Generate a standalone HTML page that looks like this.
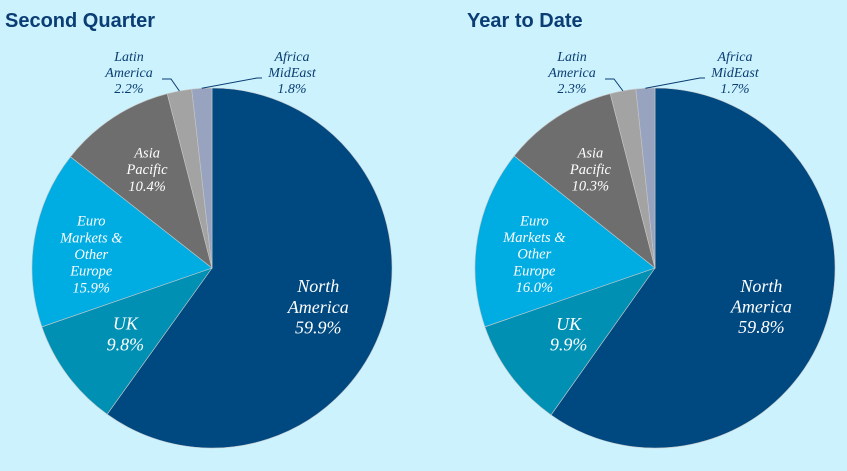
<!DOCTYPE html>
<html><head><meta charset="utf-8"><style>
body{margin:0;background:#ccf2fd;}
svg{display:block}
.t{font-family:"Liberation Sans",sans-serif;font-weight:bold;font-size:20px;fill:#0a3d73}
.l{font-family:"Liberation Serif",serif;font-style:italic;text-anchor:middle}
</style></head><body>
<svg id="c" width="847" height="471">
<rect width="847" height="471" fill="#ccf2fd"/>
<text class="t" x="5" y="27">Second Quarter</text>
<text class="t" x="467" y="27">Year to Date</text>
</svg>
<script>
const categories=["North America","UK","Euro Markets & Other Europe","Asia Pacific","Latin America","Africa MidEast"];
const q2Values=[59.9,9.8,15.9,10.4,2.2,1.8];
const ytdValues=[59.8,9.9,16.0,10.3,2.3,1.7];
const colors=["#004880","#0090b4","#00ade3","#6e6e6e","#a3a3a3","#98a3bf"];
const svg=document.getElementById('c');
const NS="http://www.w3.org/2000/svg";
function el(t,a){const e=document.createElementNS(NS,t);for(const k in a)e.setAttribute(k,a[k]);svg.appendChild(e);return e;}
function pt(cx,cy,r,f){const a=f*2*Math.PI;return [cx+r*Math.sin(a),cy-r*Math.cos(a)];}
function label(x,y,lines,fill,size,name){
  const t=el('text',{class:'l',x:x,y:y,fill:fill,'font-size':size});
  
  
  lines.forEach((s,i)=>{const sp=document.createElementNS(NS,'tspan');sp.setAttribute('x',x);sp.setAttribute('dy',i?size*1.15:0);sp.textContent=s;t.appendChild(sp);});
}
function pie(cx,cy,r,vals,key){
  const tot=vals.reduce((a,b)=>a+b,0);let acc=0;
  const mids=[];
  vals.forEach((v,i)=>{
    const f0=acc/tot,f1=(acc+v)/tot;acc+=v;
    const [x0,y0]=pt(cx,cy,r,f0),[x1,y1]=pt(cx,cy,r,f1);
    const p=el('path',{d:`M${cx},${cy}L${x0},${y0}A${r},${r} 0 ${f1-f0>0.5?1:0} 1 ${x1},${y1}Z`,fill:colors[i],stroke:'#c8c8c8','stroke-width':0.6});
    
    
    mids.push((f0+f1)/2);
  });
  const V=vals.map(v=>v.toFixed(1)+'%');
  let [x,y]=pt(cx,cy,r*0.62,mids[0]);
  label(x,y-10,["North","America",V[0]],"#fff",18,key+'-label-north-america');
  [x,y]=pt(cx,cy,r*0.6,mids[1]);
  label(x,y-3,["UK",V[1]],"#fff",18,key+'-label-uk');
  [x,y]=pt(cx,cy,r*0.68,mids[2]);
  label(x,y-22,["Euro","Markets &","Other","Europe",V[2]],"#fff",14.5,key+'-label-euro');
  [x,y]=pt(cx,cy,r*0.66,mids[3]);
  label(x,y-11,["Asia","Pacific",V[3]],"#fff",14.5,key+'-label-asia');
  [x,y]=pt(cx,cy,r,mids[4]);
  label(cx-83,cy-207,["Latin","America",V[4]],"#0a3d73",14,key+'-label-latin');
  const l1=el('polyline',{points:`${cx-50},${cy-189} ${cx-41},${cy-189} ${x},${y}`,fill:'none',stroke:'#0a3d73','stroke-width':1});
  
  [x,y]=pt(cx,cy,r,mids[5]);
  label(cx+80,cy-207,["Africa","MidEast",V[5]],"#0a3d73",14,key+'-label-africa');
  const l2=el('polyline',{points:`${cx+50},${cy-190} ${cx+45},${cy-190} ${x},${y}`,fill:'none',stroke:'#0a3d73','stroke-width':1});
  
}
pie(212,268,180,q2Values,'q2');
pie(655,268,180,ytdValues,'ytd');
</script>
</body></html>
